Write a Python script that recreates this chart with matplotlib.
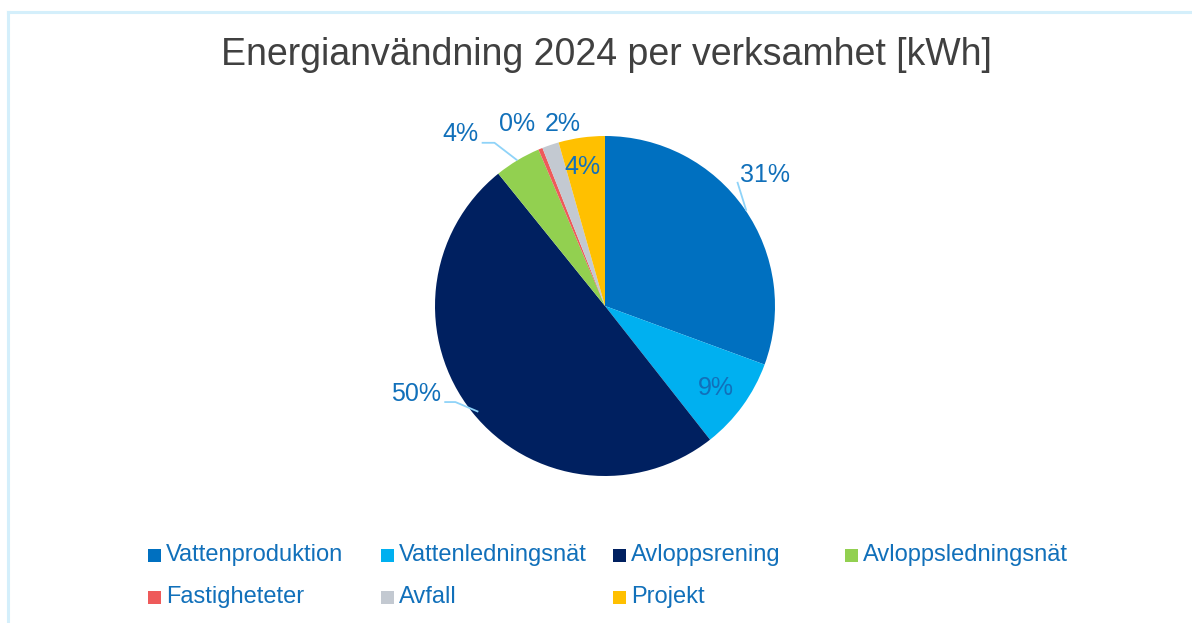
import numpy as np
import matplotlib.pyplot as plt
from matplotlib.patches import Rectangle
from matplotlib.lines import Line2D

plt.rcParams['font.family'] = ['Liberation Sans', 'DejaVu Sans']

# data
categories = ['Vattenproduktion', 'Vattenledningsnät', 'Avloppsrening',
              'Avloppsledningsnät', 'Fastigheteter', 'Avfall', 'Projekt']
shares = [30.6, 8.8, 49.8, 4.4, 0.4, 1.6, 4.4]
pct_labels = ['31%', '9%', '50%', '4%', '0%', '2%', '4%']
colors = ['#0070C0', '#00B0F0', '#002060', '#92D050', '#EE5A5A', '#C3C9D1', '#FFC000']

# label placement (x, y in pie radius units) and leader lines
label_pos = [(0.94, 0.77), (0.65, -0.48), (-1.11, -0.52), (-0.85, 1.01),
             (-0.52, 1.07), (-0.25, 1.07), (-0.13, 0.82)]
leaders = {0: [(0.78, 0.725), (0.83, 0.565)],
           2: [(-0.94, -0.565), (-0.88, -0.565), (-0.75, -0.62)],
           3: [(-0.72, 0.96), (-0.65, 0.96), (-0.52, 0.86)]}

txt_col = '#1170BA'
lead_col = '#8FD3F8'

fig = plt.figure(figsize=(11.92, 6.23), dpi=100)

# frame
fig.add_artist(Line2D([8/1192, 8/1192], [0, 1 - 12/623], color='#D4EFFB', lw=2.2))
fig.add_artist(Line2D([8/1192, 1], [1 - 12/623, 1 - 12/623], color='#D4EFFB', lw=2.2))

fig.text(606/1192, 1 - 55/623, 'Energianvändning 2024 per verksamhet [kWh]',
         ha='center', va='center', fontsize=27, color='#404040')

# pie axes: center (605,306), radius 170 px
cx, cy, r = 605, 306, 170
ax = fig.add_axes([(cx - 2*r)/1192, 1 - (cy + 2*r)/623, 4*r/1192, 4*r/623])
ax.pie(shares, colors=colors, startangle=90, counterclock=False, radius=1,
       wedgeprops=dict(linewidth=0))
ax.set_xlim(-2, 2)
ax.set_ylim(-2, 2)
ax.set_aspect('equal')
ax.axis('off')

for i, lab in enumerate(pct_labels):
    x, y = label_pos[i]
    ax.text(x, y, lab, ha='center', va='center', fontsize=18, color=txt_col)
for i, pts in leaders.items():
    xs = [p[0] for p in pts]
    ys = [p[1] for p in pts]
    ax.plot(xs, ys, color=lead_col, lw=1.3)

# legend, row-wise like the source
leg_cols = [148, 381, 613, 845]
leg_rows = [555, 597]
for i, name in enumerate(categories):
    row, col = divmod(i, 4)
    x = leg_cols[col]
    y = leg_rows[row]
    fig.add_artist(Rectangle((x/1192, 1 - (y + 6.5)/623), 13/1192, 13/623,
                             transform=fig.transFigure, color=colors[i], lw=0))
    fig.text((x + 18)/1192, 1 - y/623, name, ha='left', va='center',
             fontsize=17, color=txt_col)

fig.savefig('out.png', dpi=100)
